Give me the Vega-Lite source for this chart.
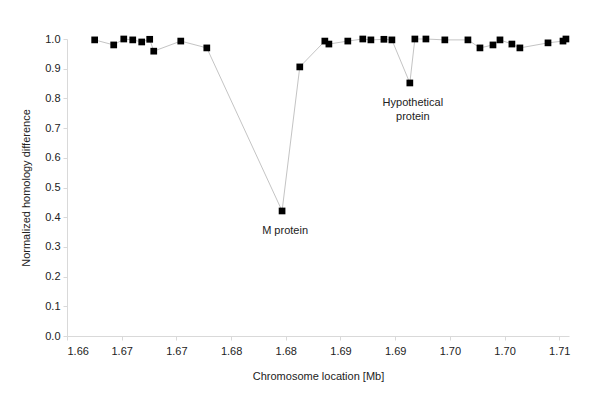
{
  "$schema": "https://vega.github.io/schema/vega-lite/v6.json",
  "autosize": {"type": "none"},
  "width": 502,
  "height": 297,
  "padding": {"left": 67, "top": 39, "right": 31, "bottom": 64},
  "background": "white",
  "config": {
    "view": {"stroke": null},
    "font": "Liberation Sans",
    "axis": {
      "grid": false,
      "domainColor": "#d9d9d9",
      "tickColor": "#d9d9d9",
      "tickSize": 4,
      "labelFont": "Liberation Sans",
      "labelFontSize": 11,
      "labelColor": "#222222",
      "titleFont": "Liberation Sans",
      "titleFontSize": 11,
      "titleFontWeight": "normal",
      "titleColor": "#222222"
    }
  },
  "data": {
    "values": [
      {"loc": 1.66653, "diff": 0.997},
      {"loc": 1.66827, "diff": 0.980},
      {"loc": 1.66919, "diff": 1.000},
      {"loc": 1.67001, "diff": 0.997},
      {"loc": 1.67083, "diff": 0.990},
      {"loc": 1.67156, "diff": 0.999},
      {"loc": 1.67193, "diff": 0.959},
      {"loc": 1.67440, "diff": 0.993},
      {"loc": 1.67678, "diff": 0.970},
      {"loc": 1.68366, "diff": 0.421, "label": "M protein"},
      {"loc": 1.68528, "diff": 0.906},
      {"loc": 1.68757, "diff": 0.993},
      {"loc": 1.68794, "diff": 0.983},
      {"loc": 1.68967, "diff": 0.993},
      {"loc": 1.69104, "diff": 1.000},
      {"loc": 1.69178, "diff": 0.997},
      {"loc": 1.69297, "diff": 0.999},
      {"loc": 1.69370, "diff": 0.997},
      {"loc": 1.69534, "diff": 0.852, "label": ["Hypothetical", "protein"]},
      {"loc": 1.69580, "diff": 1.000},
      {"loc": 1.69681, "diff": 1.000},
      {"loc": 1.69854, "diff": 0.997},
      {"loc": 1.70065, "diff": 0.997},
      {"loc": 1.70175, "diff": 0.970},
      {"loc": 1.70294, "diff": 0.980},
      {"loc": 1.70358, "diff": 0.997},
      {"loc": 1.70467, "diff": 0.983},
      {"loc": 1.70540, "diff": 0.970},
      {"loc": 1.70797, "diff": 0.987},
      {"loc": 1.70934, "diff": 0.993},
      {"loc": 1.70961, "diff": 1.000}
    ]
  },
  "encoding": {
    "x": {
      "field": "loc",
      "type": "quantitative",
      "scale": {"domain": [1.664, 1.70989], "nice": false, "zero": false},
      "axis": {
        "title": "Chromosome location [Mb]",
        "values": [1.664, 1.669, 1.674, 1.679, 1.684, 1.689, 1.694, 1.699, 1.704, 1.709],
        "format": ".2f",
        "labelPadding": 5,
        "titlePadding": 14
      }
    },
    "y": {
      "field": "diff",
      "type": "quantitative",
      "scale": {"domain": [0, 1], "nice": false},
      "axis": {
        "title": "Normalized homology difference",
        "values": [0, 0.1, 0.2, 0.3, 0.4, 0.5, 0.6, 0.7, 0.8, 0.9, 1.0],
        "format": ".1f",
        "labelPadding": 3,
        "titlePadding": 13
      }
    }
  },
  "layer": [
    {"mark": {"type": "line", "color": "#c4c4c4", "strokeWidth": 1}},
    {"mark": {"type": "point", "shape": "square", "filled": true, "color": "#000000", "opacity": 1, "size": 45}},
    {
      "transform": [{"filter": "datum.label != null"}],
      "mark": {"type": "text", "baseline": "top", "align": "center", "dx": 3, "dy": 14, "fontSize": 11, "lineHeight": 14, "color": "#222222", "font": "Liberation Sans"},
      "encoding": {"text": {"field": "label"}}
    }
  ]
}
